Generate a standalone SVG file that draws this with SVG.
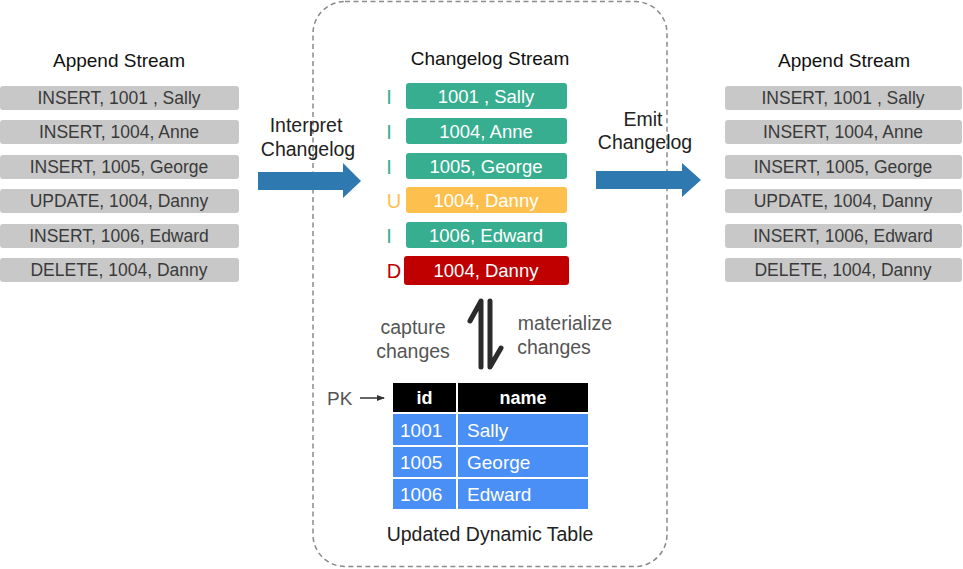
<svg xmlns="http://www.w3.org/2000/svg" width="963" height="569" viewBox="0 0 963 569">
<defs>
<style>
text{font-family:"Liberation Sans",Arial,sans-serif;}
.title{font-size:19px;fill:#111;text-anchor:middle;}
.bar{fill:#c8c8c8;}
.bartxt{font-size:17.5px;fill:#3a3a3a;text-anchor:middle;}
.ctxt{font-size:18.5px;fill:#ffffff;text-anchor:middle;}
.lbl{font-size:19.5px;fill:#222;text-anchor:middle;}
.glbl{font-size:19.5px;fill:#555;text-anchor:middle;}
.green{fill:#37ae8f;}
.orange{fill:#fdbf4e;}
.red{fill:#c00000;}
.blue{fill:#2f79b1;}
.cell{fill:#4a8ff5;}
.hdr{fill:#000;}
.celltxt{font-size:19px;fill:#fff;}
.hdrtxt{font-size:18px;fill:#fff;font-weight:bold;text-anchor:middle;}
.flag{font-size:20px;text-anchor:middle;}
.dbl{stroke:#2b2b2b;stroke-width:5;fill:none;stroke-linecap:round;stroke-linejoin:round;}
</style>
<marker id="pkArrow" markerWidth="8" markerHeight="8" refX="7" refY="4" orient="auto" markerUnits="userSpaceOnUse">
<path d="M0,1 L8,4 L0,7 Z" fill="#333"/>
</marker>
</defs>
<rect width="963" height="569" fill="#ffffff"/>

<g id="container">
<rect x="313" y="1.5" width="354" height="565" rx="32" ry="32" fill="none" stroke="#8a8a8a" stroke-width="1.5" stroke-dasharray="5 3.5"/>
</g>

<g id="left-append-stream">
<text class="title" x="119" y="67">Append Stream</text>
<rect class="bar" x="0" y="86" width="239" height="24" rx="3"/>
<text class="bartxt" x="119" y="104">INSERT, 1001 , Sally</text>
<rect class="bar" x="0" y="120" width="239" height="24" rx="3"/>
<text class="bartxt" x="119" y="138">INSERT, 1004, Anne</text>
<rect class="bar" x="0" y="155" width="239" height="24" rx="3"/>
<text class="bartxt" x="119" y="173">INSERT, 1005, George</text>
<rect class="bar" x="0" y="189" width="239" height="24" rx="3"/>
<text class="bartxt" x="119" y="207">UPDATE, 1004, Danny</text>
<rect class="bar" x="0" y="224" width="239" height="24" rx="3"/>
<text class="bartxt" x="119" y="242">INSERT, 1006, Edward</text>
<rect class="bar" x="0" y="258" width="239" height="24" rx="3"/>
<text class="bartxt" x="119" y="276">DELETE, 1004, Danny</text>
</g>

<g id="right-append-stream">
<text class="title" x="844" y="67">Append Stream</text>
<rect class="bar" x="725" y="86" width="237" height="24" rx="3"/>
<text class="bartxt" x="843" y="104">INSERT, 1001 , Sally</text>
<rect class="bar" x="725" y="120" width="237" height="24" rx="3"/>
<text class="bartxt" x="843" y="138">INSERT, 1004, Anne</text>
<rect class="bar" x="725" y="155" width="237" height="24" rx="3"/>
<text class="bartxt" x="843" y="173">INSERT, 1005, George</text>
<rect class="bar" x="725" y="189" width="237" height="24" rx="3"/>
<text class="bartxt" x="843" y="207">UPDATE, 1004, Danny</text>
<rect class="bar" x="725" y="224" width="237" height="24" rx="3"/>
<text class="bartxt" x="843" y="242">INSERT, 1006, Edward</text>
<rect class="bar" x="725" y="258" width="237" height="24" rx="3"/>
<text class="bartxt" x="843" y="276">DELETE, 1004, Danny</text>
</g>

<g id="changelog-stream">
<text class="title" x="490" y="65">Changelog Stream</text>
<rect class="green" x="406" y="83" width="161" height="26" rx="3"/>
<text class="ctxt" x="486" y="103">1001 , Sally</text>
<rect class="green" x="406" y="118" width="161" height="26" rx="3"/>
<text class="ctxt" x="486" y="138">1004, Anne</text>
<rect class="green" x="406" y="153" width="161" height="26" rx="3"/>
<text class="ctxt" x="486" y="173">1005, George</text>
<rect class="orange" x="406" y="187" width="161" height="26" rx="3"/>
<text class="ctxt" x="486" y="207">1004, Danny</text>
<rect class="green" x="406" y="222" width="161" height="26" rx="3"/>
<text class="ctxt" x="486" y="242">1006, Edward</text>
<rect class="red" x="404" y="256" width="165" height="29" rx="3"/>
<text class="ctxt" x="486" y="277">1004, Danny</text>
<text class="flag" x="389" y="104" fill="#37ae8f">I</text>
<text class="flag" x="389" y="139" fill="#37ae8f">I</text>
<text class="flag" x="389" y="174" fill="#37ae8f">I</text>
<text class="flag" x="394" y="208" fill="#fdbf4e">U</text>
<text class="flag" x="389" y="243" fill="#37ae8f">I</text>
<text class="flag" x="394" y="278" fill="#c00000">D</text>
</g>

<g id="dynamic-table">
<rect class="hdr" x="393" y="383" width="63" height="29"/>
<rect class="hdr" x="458" y="383" width="130" height="29"/>
<text class="hdrtxt" x="424.5" y="404">id</text>
<text class="hdrtxt" x="523" y="404">name</text>
<rect class="cell" x="393" y="414" width="63" height="31"/>
<rect class="cell" x="458" y="414" width="130" height="31"/>
<rect class="cell" x="393" y="447" width="63" height="30"/>
<rect class="cell" x="458" y="447" width="130" height="30"/>
<rect class="cell" x="393" y="479" width="63" height="30"/>
<rect class="cell" x="458" y="479" width="130" height="30"/>
<text class="celltxt" x="400" y="437">1001</text>
<text class="celltxt" x="467" y="437">Sally</text>
<text class="celltxt" x="400" y="469">1005</text>
<text class="celltxt" x="467" y="469">George</text>
<text class="celltxt" x="400" y="501">1006</text>
<text class="celltxt" x="467" y="501">Edward</text>
<text class="lbl" x="490" y="541">Updated Dynamic Table</text>
</g>

<g id="connectors">
<path class="blue" d="M258,172 L343,172 L343,163 L361,181 L343,198 L343,190 L258,190 Z"/>
<text class="lbl" x="306" y="132">Interpret</text>
<text class="lbl" x="308" y="156">Changelog</text>
<path class="blue" d="M596,171 L682,171 L682,163 L701,180 L682,197 L682,189 L596,189 Z"/>
<text class="lbl" x="643" y="126">Emit</text>
<text class="lbl" x="645" y="149">Changelog</text>
<path class="dbl" d="M481,367 L481,301 L470,321"/>
<path class="dbl" d="M490,301 L490,367 L501,348"/>
<text class="glbl" x="413" y="334">capture</text>
<text class="glbl" x="413" y="358">changes</text>
<text class="glbl" x="565" y="330">materialize</text>
<text class="glbl" x="554" y="354">changes</text>
<text x="327" y="405" font-size="19" fill="#555">PK</text>
<line x1="360" y1="398" x2="384" y2="398" stroke="#333" stroke-width="1.5" marker-end="url(#pkArrow)"/>
</g>
</svg>
